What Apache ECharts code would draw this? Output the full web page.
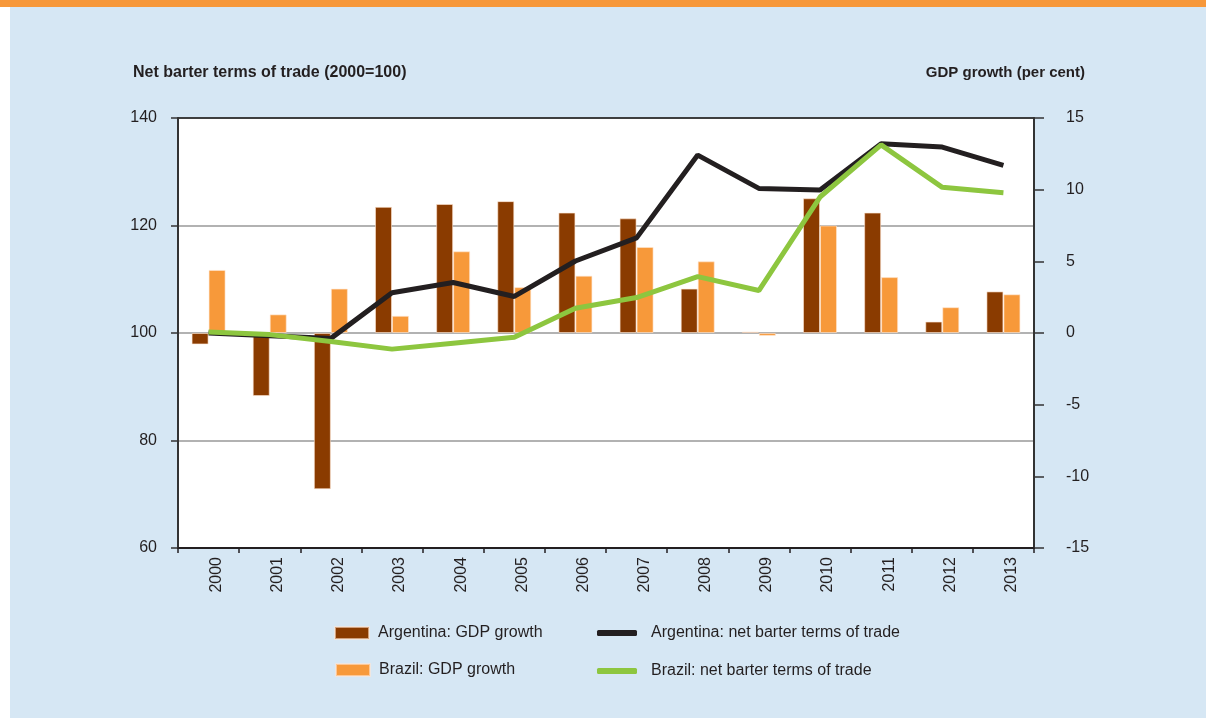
<!DOCTYPE html>
<html>
<head>
<meta charset="utf-8">
<script src="https://cdn.jsdelivr.net/npm/echarts@6/dist/echarts.min.js"></script>
<style>
  html, body { margin: 0; padding: 0; background: #ffffff; }
  #wrap { position: relative; width: 1206px; height: 721px; overflow: hidden; }
  #bg { position: absolute; left: 10px; top: 0; width: 1196px; height: 718px; background: #d6e7f4; }
  #band { position: absolute; left: 0; top: 0; width: 1206px; height: 7px; background: #f7983a; }
  #myChart { position: absolute; left: 0; top: 0; width: 1206px; height: 721px; }
</style>
</head>
<body>
<div id="wrap">
  <div id="bg"></div>
  <div id="band"></div>
  <div id="myChart"></div>
</div>
<script>
// data
let years = ['2000', '2001', '2002', '2003', '2004', '2005', '2006', '2007', '2008', '2009', '2010', '2011', '2012', '2013']
let argGdp = [-0.8, -4.4, -10.9, 8.8, 9.0, 9.2, 8.4, 8.0, 3.1, 0.1, 9.4, 8.4, 0.8, 2.9]
let braGdp = [4.4, 1.3, 3.1, 1.2, 5.7, 3.2, 4.0, 6.0, 5.0, -0.2, 7.5, 3.9, 1.8, 2.7]
let argTot = [100, 99.5, 99.0, 107.5, 109.4, 106.8, 113.4, 117.7, 133.1, 126.9, 126.6, 135.2, 134.6, 131.2]
let braTot = [100.2, 99.7, 98.4, 97.0, 98.1, 99.2, 104.6, 106.6, 110.5, 107.9, 125.3, 135.0, 127.1, 126.1]

let font = '"Liberation Sans Narrow", "Liberation Sans", Arial, sans-serif'
let textColor = '#231f20'

let myChart = echarts.init(document.getElementById('myChart'))

function legendAt(name, left, top, icon, w, h, pad) {
    return {
        data: [name],
        left: left,
        top: top,
        padding: 0,
        icon: icon,
        itemWidth: w,
        itemHeight: h,
        selectedMode: false,
        textStyle: { fontFamily: font, fontSize: 16, color: textColor, padding: [0, 0, 0, pad] }
    }
}

myChart.setOption({
    animation: false,
    textStyle: { fontFamily: font },
    title: [
        {
            text: 'Net barter terms of trade (2000=100)',
            left: 133, top: 65, padding: 0,
            textStyle: { fontFamily: font, fontSize: 16, fontWeight: 'bold', color: textColor }
        },
        {
            text: 'GDP growth (per cent)',
            right: 121, top: 65, padding: 0,
            textStyle: { fontFamily: font, fontSize: 15, fontWeight: 'bold', color: textColor }
        }
    ],
    legend: [
        legendAt('Argentina: GDP growth', 334, 625, 'rect', 34, 12, 4),
        legendAt('Argentina: net barter terms of trade', 597, 625, 'roundRect', 40, 6, 9),
        legendAt('Brazil: GDP growth', 335, 662, 'rect', 34, 12, 4),
        legendAt('Brazil: net barter terms of trade', 597, 663, 'roundRect', 40, 6, 9)
    ],
    grid: {
        left: 178, right: 172, top: 118, bottom: 173,
        show: true, backgroundColor: '#ffffff', borderColor: '#333333', borderWidth: 1.5
    },
    xAxis: {
        type: 'category',
        data: years,
        boundaryGap: true,
        axisLine: { onZero: false, lineStyle: { color: '#231f20', width: 2 } },
        axisTick: { show: true, length: 5, inside: false, lineStyle: { color: '#231f20', width: 1.5 } },
        axisLabel: { rotate: 90, fontSize: 16, color: textColor, margin: 9, verticalAlign: 'top', fontFamily: font },
        splitLine: { show: false }
    },
    yAxis: [
        {
            type: 'value',
            min: 60, max: 140, interval: 20,
            position: 'left',
            axisLine: { show: true, lineStyle: { color: '#333333', width: 2 } },
            axisTick: { show: true, length: 7, lineStyle: { color: '#333333', width: 1.5 } },
            axisLabel: { fontSize: 16, color: textColor, margin: 21, fontFamily: font },
            splitLine: { show: true, lineStyle: { color: ['#999999', '#999999', '#999999', '#999999', '#333333'], width: 1.5 } }
        },
        {
            type: 'value',
            min: -15, max: 15, interval: 5,
            position: 'right',
            axisLine: { show: true, lineStyle: { color: '#333333', width: 2 } },
            axisTick: { show: true, length: 10, lineStyle: { color: '#333333', width: 1.5 } },
            axisLabel: { fontSize: 16, color: textColor, margin: 32, align: 'left', fontFamily: font },
            splitLine: { show: false }
        }
    ],
    series: [
        {
            name: 'Argentina: GDP growth',
            type: 'bar',
            yAxisIndex: 1,
            data: argGdp,
            barWidth: 17,
            barGap: '0%',
            itemStyle: { color: '#8a3b00', borderColor: 'rgba(255,230,210,0.6)', borderWidth: 1 }
        },
        {
            name: 'Brazil: GDP growth',
            type: 'bar',
            yAxisIndex: 1,
            data: braGdp,
            barWidth: 17,
            barGap: '0%',
            itemStyle: { color: '#f7993a', borderColor: 'rgba(255,230,210,0.6)', borderWidth: 1 }
        },
        {
            name: 'Argentina: net barter terms of trade',
            type: 'line',
            yAxisIndex: 0,
            data: argTot,
            symbol: 'none',
            z: 3,
            itemStyle: { color: '#231f20' },
            lineStyle: { color: '#231f20', width: 5 }
        },
        {
            name: 'Brazil: net barter terms of trade',
            type: 'line',
            yAxisIndex: 0,
            data: braTot,
            symbol: 'none',
            z: 4,
            itemStyle: { color: '#8dc63f' },
            lineStyle: { color: '#8dc63f', width: 5 }
        }
    ]
});
</script>
</body>
</html>
